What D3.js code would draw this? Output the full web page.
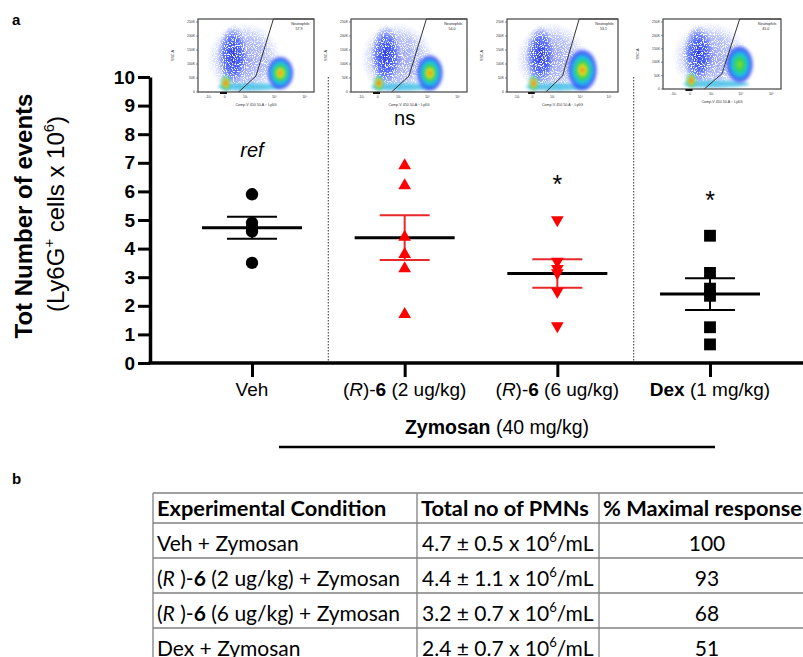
<!DOCTYPE html>
<html>
<head>
<meta charset="utf-8">
<script src="https://cdn.jsdelivr.net/npm/d3@7"></script>
<style>
  body { margin: 0; background: #fff; }
  svg { display: block; }
</style>
</head>
<body>
<div id="chart"></div>
<script>
// ---- data ----
const groups = ['Veh', 'R6 2', 'R6 6', 'Dex'];
const vehValues = [5.9, 4.9, 4.75, 4.6, 3.5];
const r6LowValues = [6.9, 6.2, 4.4, 3.8, 3.3, 1.7];
const r6HighValues = [5.0, 3.55, 3.3, 3.15, 2.5, 1.3];
const dexValues = [4.45, 3.15, 2.6, 2.35, 1.25, 0.65];
const yTicks = [0, 1, 2, 3, 4, 5, 6, 7, 8, 9, 10];
const sigLabels = ['ref', 'ns', '*', '*'];
const groupLabels = [
    [['Veh', '']],
    [['(', ''], ['R', 'i'], [')-', ''], ['6', 'b'], [' (2 ug/kg)', '']],
    [['(', ''], ['R', 'i'], [')-', ''], ['6', 'b'], [' (6 ug/kg)', '']],
    [['Dex', 'b'], [' (1 mg/kg)', '']]
];
const gatePercents = ['57.9', '54.0', '53.1', '45.0'];
const flowYTicks = ['250K', '200K', '150K', '100K', '50K', '0'];
const flowXTicks = ['-10³', '0', '10³', '10⁴', '10⁵'];

const tableHeader = ['Experimental Condition', 'Total no of PMNs', '% Maximal response'];
const tableConditions = [
    [['Veh + Zymosan', '']],
    [['(', ''], ['R', 'i'], [' )-', ''], ['6', 'b'], [' (2 ug/kg) + Zymosan', '']],
    [['(', ''], ['R', 'i'], [' )-', ''], ['6', 'b'], [' (6 ug/kg) + Zymosan', '']],
    [['Dex + Zymosan', '']]
];
const tableMeans = ['4.7', '4.4', '3.2', '2.4'];
const tableErrors = ['0.5', '1.1', '0.7', '0.7'];
const tableResponse = ['100', '93', '68', '51'];

// ---- setup ----
const width = 803, height = 657;
const font = '"Liberation Sans", Arial, sans-serif';
const tableFont = 'Lato, "Open Sans", sans-serif';

const svg = d3.select('#chart').append('svg')
    .attr('width', width)
    .attr('height', height)
    .attr('font-family', font);

const x = d3.scalePoint().domain(groups).range([252, 710]);
const y = d3.scaleLinear().domain([0, 10]).range([363, 77]);
const axisX = 150;

const series = [
    { key: groups[0], values: vehValues, shape: d3.symbolCircle, size: 120, rot: 0, color: '#000', err: '#000' },
    { key: groups[1], values: r6LowValues, shape: d3.symbolTriangle, size: 70, rot: 0, color: '#ff0000', err: '#e8292b' },
    { key: groups[2], values: r6HighValues, shape: d3.symbolTriangle, size: 70, rot: 180, color: '#ff0000', err: '#e8292b' },
    { key: groups[3], values: dexValues, shape: d3.symbolSquare, size: 140, rot: 0, color: '#000', err: '#000' }
];

// rich text: parts = [[text, style]] with style '', 'b', 'i', 's'
function richText(sel, parts, size) {
    var shift = 0;
    parts.forEach(function(p) {
        var t = sel.append('tspan').text(p[0]);
        if (p[1] === 'b') t.attr('font-weight', 'bold');
        if (p[1] === 'i') t.attr('font-style', 'italic');
        if (p[1] === 's') {
            t.attr('font-size', size * 0.62).attr('dy', -size * 0.42);
            shift = size * 0.42;
        } else if (shift) {
            t.attr('dy', shift);
            shift = 0;
        }
    });
}

// panel letters
svg.append('text').attr('x', 12).attr('y', 25).attr('font-size', 15).attr('font-weight', 'bold').text('a');
svg.append('text').attr('x', 12).attr('y', 484).attr('font-size', 15).attr('font-weight', 'bold').text('b');

// ---- flow cytometry thumbnails ----
const defs = svg.append('defs');
defs.append('filter').attr('id', 'blur').attr('x', '-50%').attr('y', '-50%').attr('width', '200%').attr('height', '200%')
    .append('feGaussianBlur').attr('stdDeviation', 1.4);

const grain = defs.append('filter').attr('id', 'grain').attr('x', 0).attr('y', 0).attr('width', '100%').attr('height', '100%');
grain.append('feTurbulence').attr('type', 'fractalNoise').attr('baseFrequency', 0.9).attr('numOctaves', 1).attr('result', 'noise');
grain.append('feColorMatrix').attr('in', 'noise').attr('type', 'matrix')
    .attr('values', '0 0 0 0 0  0 0 0 0 0  0 0 0 0 0  0 0 0 -9 5.6').attr('result', 'dots');
grain.append('feComposite').attr('in', 'SourceGraphic').attr('in2', 'dots').attr('operator', 'in');

function gradient(id, stops) {
    var g = defs.append('radialGradient').attr('id', id);
    stops.forEach(function(s) {
        g.append('stop').attr('offset', s[0]).attr('stop-color', s[1]).attr('stop-opacity', s[2]);
    });
}
gradient('hot', [['0%', '#e8201a', 1], ['16%', '#f5e31a', 1], ['36%', '#37d23a', 1], ['58%', '#19c6e8', 1], ['82%', '#2a3cf5', 0.85], ['100%', '#2a3cf5', 0]]);
gradient('cool', [['0%', '#8fe03c', 1], ['28%', '#33d44a', 1], ['55%', '#18c3e6', 1], ['82%', '#2a3cf5', 0.85], ['100%', '#2a3cf5', 0]]);
gradient('spot', [['0%', '#e8201a', 1], ['35%', '#f2d21c', 1], ['65%', '#2fcf55', 0.9], ['100%', '#19b6e8', 0]]);
gradient('haze', [['0%', '#1f30e8', 0.95], ['60%', '#3350ff', 0.7], ['100%', '#5570ff', 0]]);

const flowFrames = [
    { x: 198, y: 19, w: 116, h: 73, pop: [0.71, 0.74, 0.12, 0.24], grad: 'hot' },
    { x: 351, y: 19, w: 116, h: 73, pop: [0.68, 0.74, 0.12, 0.26], grad: 'hot' },
    { x: 507, y: 19, w: 111, h: 73, pop: [0.68, 0.70, 0.14, 0.3], grad: 'hot' },
    { x: 663, y: 19, w: 118, h: 70, pop: [0.65, 0.65, 0.12, 0.28], grad: 'cool' }
];
const flowTickPos = [0.09, 0.23, 0.41, 0.66, 0.92];

flowFrames.forEach(function(f, i) {
    var fx = d3.scaleLinear().range([f.x, f.x + f.w]);
    var fy = d3.scaleLinear().range([f.y, f.y + f.h]);
    var g = svg.append('g');
    var clipId = 'clip' + i;
    defs.append('clipPath').attr('id', clipId)
        .append('rect').attr('x', f.x).attr('y', f.y).attr('width', f.w).attr('height', f.h);
    var inner = g.append('g').attr('clip-path', 'url(#' + clipId + ')');

    // scattered blue cells
    inner.append('ellipse').attr('cx', fx(0.4)).attr('cy', fy(0.55)).attr('rx', f.w * 0.32).attr('ry', f.h * 0.5)
        .attr('fill', 'url(#haze)').attr('opacity', 0.5).attr('filter', 'url(#grain)');
    inner.append('ellipse').attr('cx', fx(0.3)).attr('cy', fy(0.5)).attr('rx', f.w * 0.13).attr('ry', f.h * 0.42)
        .attr('fill', 'url(#haze)').attr('filter', 'url(#grain)');
    // debris strip along the bottom
    inner.append('ellipse').attr('cx', fx(0.45)).attr('cy', fy(0.93)).attr('rx', f.w * 0.28).attr('ry', f.h * 0.05)
        .attr('fill', '#22b8e0').attr('opacity', 0.7).attr('filter', 'url(#blur)');
    inner.append('ellipse').attr('cx', fx(0.24)).attr('cy', fy(0.88)).attr('rx', f.w * 0.05).attr('ry', f.h * 0.12)
        .attr('fill', 'url(#spot)').attr('filter', 'url(#blur)');
    // main neutrophil population
    inner.append('ellipse').attr('cx', fx(f.pop[0])).attr('cy', fy(f.pop[1])).attr('rx', f.w * f.pop[2]).attr('ry', f.h * f.pop[3])
        .attr('fill', 'url(#' + f.grad + ')').attr('filter', 'url(#blur)');

    // gate
    var gate = [[0.35, 1], [0.5, 0.78], [0.65, 0], [1, 0]];
    g.append('path')
        .attr('d', d3.line().x(function(d) { return fx(d[0]); }).y(function(d) { return fy(d[1]); })(gate))
        .attr('fill', 'none').attr('stroke', '#333').attr('stroke-width', 1);
    g.append('rect').attr('x', f.x).attr('y', f.y).attr('width', f.w).attr('height', f.h)
        .attr('fill', 'none').attr('stroke', '#444').attr('stroke-width', 1.2);
    g.append('text').attr('x', fx(0.96)).attr('y', fy(0.08)).attr('font-size', 3.6).attr('text-anchor', 'end').attr('fill', '#222').text('Neutrophils');
    g.append('text').attr('x', fx(0.9)).attr('y', fy(0.15)).attr('font-size', 3.6).attr('text-anchor', 'end').attr('fill', '#222').text(gatePercents[i]);

    // tiny axes
    var ty = d3.scalePoint().domain(flowYTicks).range([f.y + 3, f.y + f.h]);
    flowYTicks.forEach(function(t) {
        g.append('line').attr('x1', f.x - 2).attr('x2', f.x).attr('y1', ty(t)).attr('y2', ty(t)).attr('stroke', '#444').attr('stroke-width', 0.6);
        g.append('text').attr('x', f.x - 3).attr('y', ty(t) + 1.2).attr('font-size', 3.4).attr('text-anchor', 'end').attr('fill', '#333').text(t);
    });
    flowXTicks.forEach(function(t, k) {
        g.append('text').attr('x', fx(flowTickPos[k])).attr('y', f.y + f.h + 6).attr('font-size', 3.4).attr('text-anchor', 'middle').attr('fill', '#333').text(t);
    });
    g.append('rect').attr('x', fx(0.19)).attr('y', f.y + f.h).attr('width', f.w * 0.06).attr('height', 2).attr('fill', '#111');
    g.append('text').attr('x', f.x + f.w / 2).attr('y', f.y + f.h + 14).attr('font-size', 3.6).attr('text-anchor', 'middle').attr('fill', '#333')
        .text('Comp-V 450 50-A :: Ly6G');
    g.append('text').attr('transform', 'translate(' + (f.x - 24) + ',' + (f.y + f.h / 2) + ') rotate(-90)')
        .attr('font-size', 3.6).attr('text-anchor', 'middle').attr('fill', '#333').text('SSC-A');
});

// ---- group separators ----
[[0, 1], [2, 3]].forEach(function(p) {
    var sx = (x(groups[p[0]]) + x(groups[p[1]])) / 2;
    svg.append('line').attr('x1', sx).attr('x2', sx).attr('y1', y(10)).attr('y2', y(0))
        .attr('stroke', '#555').attr('stroke-width', 1.2).attr('stroke-dasharray', '1.4,1.6');
});

// ---- axes ----
const yAxis = svg.append('g')
    .attr('transform', 'translate(' + axisX + ',0)')
    .call(d3.axisLeft(y).tickValues(yTicks).tickSize(12).tickSizeOuter(0).tickPadding(3))
    .attr('font-family', font)
    .attr('font-size', 19);
yAxis.select('.domain').attr('stroke', '#000').attr('stroke-width', 3.5);
yAxis.selectAll('.tick line').attr('stroke', '#000').attr('stroke-width', 3);
yAxis.selectAll('.tick text').attr('font-weight', 'bold').attr('fill', '#000');

const xAxis = svg.append('g')
    .attr('transform', 'translate(0,' + y(0) + ')')
    .call(d3.axisBottom(x).tickSize(14).tickSizeOuter(0).tickFormat(''));
xAxis.select('.domain').remove();
xAxis.selectAll('.tick line').attr('stroke', '#000').attr('stroke-width', 3);
svg.append('line').attr('x1', axisX - 1.5).attr('x2', width).attr('y1', y(0)).attr('y2', y(0))
    .attr('stroke', '#000').attr('stroke-width', 3.5);

// group labels
groups.forEach(function(gk, i) {
    var t = svg.append('text').attr('x', x(gk)).attr('y', 396).attr('font-size', 19).attr('text-anchor', 'middle');
    richText(t, groupLabels[i], 19);
});

// Zymosan bar
var zt = svg.append('text').attr('x', 497).attr('y', 434).attr('font-size', 19.5).attr('text-anchor', 'middle');
richText(zt, [['Zymosan', 'b'], [' (40 mg/kg)', '']], 19.5);
svg.append('line').attr('x1', 279).attr('x2', 715).attr('y1', 447).attr('y2', 447).attr('stroke', '#000').attr('stroke-width', 2.5);

// y title
var yt1 = svg.append('text').attr('transform', 'translate(32,216) rotate(-90)')
    .attr('font-size', 24).attr('font-weight', 'bold').attr('text-anchor', 'middle');
yt1.text('Tot Number of events');
var yt2 = svg.append('text').attr('transform', 'translate(64,214) rotate(-90)')
    .attr('font-size', 24).attr('text-anchor', 'middle');
richText(yt2, [['(Ly6G', ''], ['+', 's'], [' cells x 10', ''], ['6', 's'], [')', '']], 24);

// ---- scatter with mean ± SEM ----
series.forEach(function(s, i) {
    var cx = x(s.key);
    var m = d3.mean(s.values);
    var sem = d3.deviation(s.values) / Math.sqrt(s.values.length);
    var g = svg.append('g');

    g.append('line').attr('x1', cx).attr('x2', cx).attr('y1', y(m + sem)).attr('y2', y(m - sem))
        .attr('stroke', s.err).attr('stroke-width', 2);
    g.selectAll('line.cap').data([m + sem, m - sem]).join('line').attr('class', 'cap')
        .attr('x1', cx - 25).attr('x2', cx + 25)
        .attr('y1', function(d) { return y(d); }).attr('y2', function(d) { return y(d); })
        .attr('stroke', s.err).attr('stroke-width', 2);
    g.append('line').attr('x1', cx - 50).attr('x2', cx + 50).attr('y1', y(m)).attr('y2', y(m))
        .attr('stroke', '#000').attr('stroke-width', 3);

    g.selectAll('path.pt').data(s.values).join('path').attr('class', 'pt')
        .attr('d', d3.symbol(s.shape, s.size))
        .attr('transform', function(d) { return 'translate(' + cx + ',' + y(d) + ') rotate(' + s.rot + ')'; })
        .attr('fill', s.color);

    var lab = svg.append('text').attr('x', cx).attr('font-size', 20).attr('text-anchor', 'middle').text(sigLabels[i]);
    if (sigLabels[i] === 'ref') lab.attr('y', 157).attr('font-style', 'italic');
    else if (sigLabels[i] === 'ns') lab.attr('y', 125);
    else lab.attr('y', y(d3.max(s.values)) - 27).attr('font-size', 25);
});

// ---- table ----
const colX = [153, 417, 599, 815];
const rowY = [493, 523, 558, 593, 628, 663];
const table = svg.append('g').attr('font-family', tableFont).attr('font-size', 21).attr('fill', '#000');

rowY.forEach(function(ry) {
    table.append('line').attr('x1', colX[0]).attr('x2', colX[3]).attr('y1', ry).attr('y2', ry)
        .attr('stroke', '#808080').attr('stroke-width', 1.3);
});
colX.forEach(function(cx) {
    table.append('line').attr('x1', cx).attr('x2', cx).attr('y1', rowY[0]).attr('y2', rowY[5])
        .attr('stroke', '#808080').attr('stroke-width', 1.3);
});

tableHeader.forEach(function(h, c) {
    table.append('text').attr('x', colX[c] + 4).attr('y', rowY[1] - 7).attr('font-size', 21.8).attr('font-weight', 'bold').text(h);
});
tableConditions.forEach(function(cond, r) {
    var base = rowY[r + 2] - 7;
    richText(table.append('text').attr('x', colX[0] + 4).attr('y', base), cond, 21);
    richText(table.append('text').attr('x', colX[1] + 5).attr('y', base),
        [[tableMeans[r] + ' ± ' + tableErrors[r] + ' x 10', ''], ['6', 's'], ['/mL', '']], 21);
    table.append('text').attr('x', 707).attr('y', base).attr('text-anchor', 'middle').text(tableResponse[r]);
});
</script>
</body>
</html>
